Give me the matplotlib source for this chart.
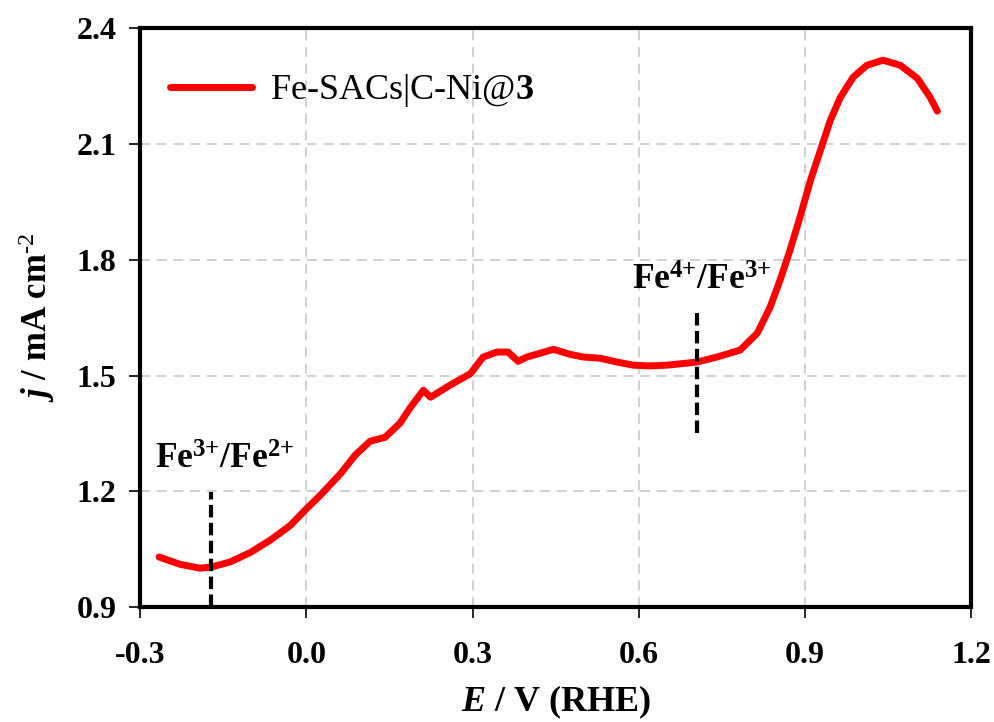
import matplotlib
matplotlib.use('Agg')
import matplotlib.pyplot as plt

plt.rcParams['font.family'] = 'Liberation Serif'
plt.rcParams['mathtext.fontset'] = 'custom'
plt.rcParams['mathtext.rm'] = 'Liberation Serif'
plt.rcParams['mathtext.bf'] = 'Liberation Serif:bold'
plt.rcParams['mathtext.it'] = 'Liberation Serif:italic:bold'

# LSV curve
E = [-0.266, -0.228, -0.192, -0.172, -0.138, -0.101, -0.065, -0.029, 0.0, 0.025,
     0.061, 0.088, 0.115, 0.142, 0.169, 0.187, 0.211, 0.224, 0.259, 0.296,
     0.319, 0.344, 0.364, 0.382, 0.398, 0.422, 0.446, 0.476, 0.500, 0.530,
     0.561, 0.590, 0.620, 0.651, 0.705, 0.741, 0.783, 0.814, 0.837, 0.855,
     0.873, 0.891, 0.910, 0.928, 0.946, 0.964, 0.987, 1.012, 1.041, 1.072,
     1.103, 1.126, 1.139]
j = [1.030, 1.011, 1.001, 1.004, 1.017, 1.042, 1.074, 1.112, 1.155, 1.190,
     1.245, 1.294, 1.330, 1.340, 1.377, 1.416, 1.462, 1.444, 1.475, 1.505,
     1.548, 1.561, 1.561, 1.537, 1.548, 1.558, 1.568, 1.555, 1.548, 1.545,
     1.535, 1.527, 1.525, 1.527, 1.535, 1.548, 1.566, 1.610, 1.677, 1.747,
     1.825, 1.910, 2.006, 2.084, 2.162, 2.221, 2.273, 2.304, 2.317, 2.304,
     2.270, 2.221, 2.185]

# redox markers: x, y range, label, label position
marker_x = [-0.172, 0.705]
marker_y = [(0.9, 1.198), (1.35, 1.669)]
marker_labels = [r'$\mathbf{Fe^{3{+}}/Fe^{2{+}}}$', r'$\mathbf{Fe^{4{+}}/Fe^{3{+}}}$']
label_pos = [(-0.147, 1.28), (0.714, 1.745)]

xticks = [-0.3, 0.0, 0.3, 0.6, 0.9, 1.2]
yticks = [0.9, 1.2, 1.5, 1.8, 2.1, 2.4]

fig, ax = plt.subplots(figsize=(9.95, 7.22), dpi=100)
fig.subplots_adjust(left=0.141, right=0.976, top=0.961, bottom=0.159)

ax.grid(True, color='#c8c8c8', linestyle=(0, (6, 4)), linewidth=1.2, zorder=0)
ax.plot(E, j, color='#ff0000', linewidth=5, solid_capstyle='round',
        label=r'Fe-SACs|C-Ni@$\mathbf{3}$', zorder=3)

for x, (y0, y1), lab, (tx, ty) in zip(marker_x, marker_y, marker_labels, label_pos):
    ax.plot([x, x], [y0, y1], color='black', linestyle=(0, (3, 1.3)), linewidth=3, zorder=4)
    ax.text(tx, ty, lab, fontsize=25.5, ha='center', va='center')

ax.set_xlim(-0.3, 1.2)
ax.set_ylim(0.9, 2.4)
ax.set_xticks(xticks)
ax.set_yticks(yticks)
ax.set_xticklabels(['%.1f' % v for v in xticks], fontsize=23, fontweight='bold')
ax.set_yticklabels(['%.1f' % v for v in yticks], fontsize=23, fontweight='bold')
ax.tick_params(direction='out', length=8, width=1.2)
ax.tick_params(axis='x', pad=16)
ax.tick_params(axis='y', pad=9)
for s in ax.spines.values():
    s.set_linewidth(3)

ax.set_xlabel(r'$E$ / V (RHE)', fontsize=26, fontweight='bold', labelpad=10)
ax.set_ylabel(r'$j$ / mA cm$^{\text{-2}}$', fontsize=25, fontweight='bold', labelpad=14)

ax.legend(loc='upper left', bbox_to_anchor=(-0.003, 0.98), frameon=False,
          fontsize=26, handlelength=2.25, borderaxespad=0.5, handletextpad=0.5)

fig.savefig('out.png', dpi=100)
